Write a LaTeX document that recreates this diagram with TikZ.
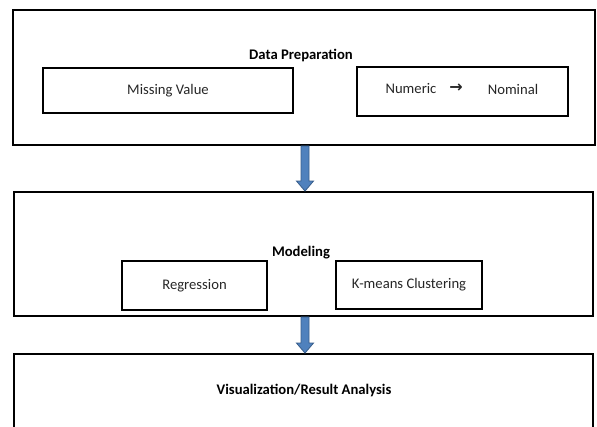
\documentclass[tikz,border=0pt]{standalone}
\usepackage{fontspec}
\setmainfont{Carlito}
\newfontfamily\symfont{DejaVu Sans}
\usetikzlibrary{fit,calc}
\definecolor{arrfill}{HTML}{4F81BD}
\definecolor{arrline}{HTML}{385D8A}
\tikzset{
  outerbox/.style={draw=black, line width=1.4pt, inner sep=0pt},
  innerbox/.style={draw=black, line width=1.4pt, inner sep=0pt},
  lbl/.style={font=\fontsize{11}{13}\selectfont, text=black!85, inner sep=0pt},
  title/.style={font=\fontsize{11}{13}\selectfont\bfseries, text=black, inner sep=0pt},
  blockarrow/.style={draw=arrline, fill=arrfill, line width=0.6pt, line join=miter}
}
\begin{document}
\begin{tikzpicture}[x=0.75pt,y=-0.75pt]
\useasboundingbox (0,0) rectangle (597,427);
\clip (0,0) rectangle (597,427);
% outer boxes
\node[outerbox, fit={(13,10) (595,145)}] (b1) {};
\node[outerbox, fit={(14,192) (593,316)}] (b2) {};
\node[outerbox, fit={(14,354) (593,450)}] (b3) {};
% titles
\node[title] (t1) at (301,56) {Data Preparation};
\node[title] (t2) at (301,253) {Modeling};
\node[title] (t3) at (304,391) {Visualization/Result Analysis};
% inner boxes
\node[innerbox, fit={(43,68) (293,113)}] (mv) {};
\node[lbl] (mvt) at (mv.center) {Missing Value};
\node[innerbox, fit={(357,67) (568,116)}] (nn) {};
\node[lbl] (num) at (411,89) {Numeric};
\node[lbl] (arr) at (456,88.5) {\symfont\bfseries\fontsize{12}{14}\selectfont →};
\node[lbl] (nom) at (513,89) {Nominal};
\node[innerbox, fit={(122,261) (267,310)}] (reg) {};
\node[lbl] (regt) at (reg.center) {Regression};
\node[innerbox, fit={(336,261) (482,309)}] (km) {};
\node[lbl] (kmt) at (km.center) {K-means Clustering};
% block arrows
\coordinate (ax) at (305,0);
\draw[blockarrow] ($(ax |- b1.south)+(-4,0)$) -- ($(ax |- b1.south)+(4,0)$)
  -- ($(ax |- b2.north)+(4,-10)$) -- ($(ax |- b2.north)+(8.5,-10)$)
  -- (ax |- b2.north) -- ($(ax |- b2.north)+(-8.5,-10)$)
  -- ($(ax |- b2.north)+(-4,-10)$) -- cycle;
\draw[blockarrow] ($(ax |- b2.south)+(-4,0)$) -- ($(ax |- b2.south)+(4,0)$)
  -- ($(ax |- b3.north)+(4,-10)$) -- ($(ax |- b3.north)+(8.5,-10)$)
  -- (ax |- b3.north) -- ($(ax |- b3.north)+(-8.5,-10)$)
  -- ($(ax |- b3.north)+(-4,-10)$) -- cycle;
\end{tikzpicture}
\end{document}
